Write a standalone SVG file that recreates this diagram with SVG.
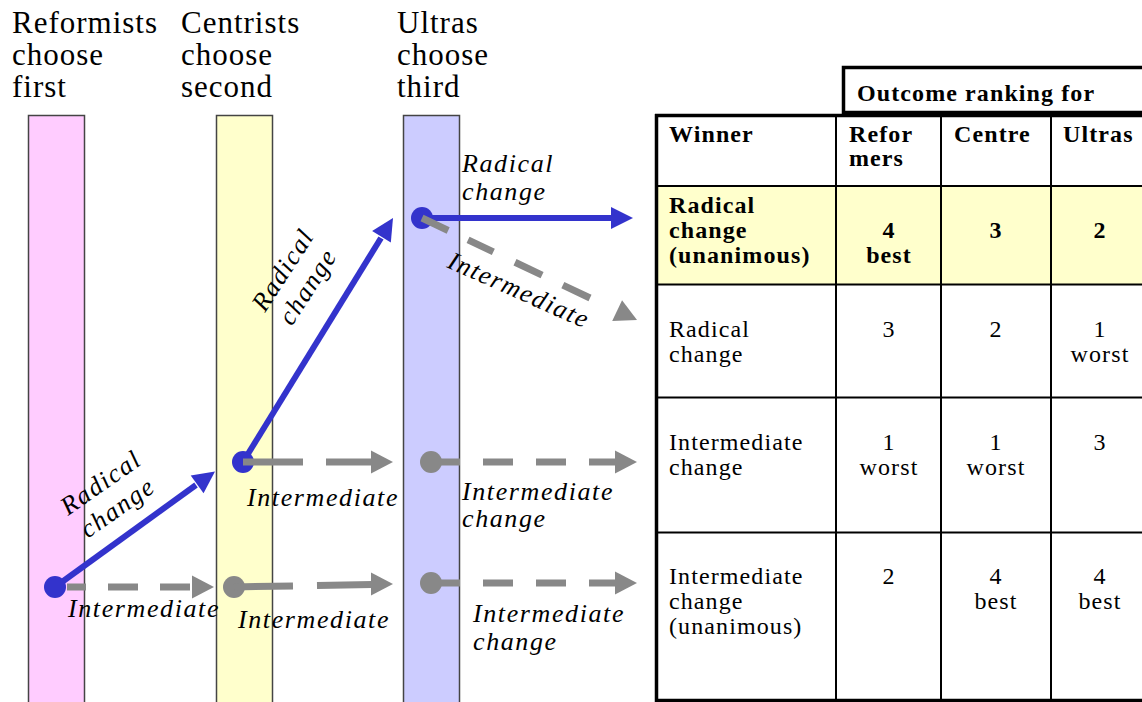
<svg xmlns="http://www.w3.org/2000/svg" xmlns:xlink="http://www.w3.org/1999/xlink" width="1142" height="702" viewBox="0 0 1142 702">
<style>
.hdr{font-family:"Liberation Serif","Times New Roman",serif;font-size:31px;letter-spacing:1px;fill:#000}
.lbl{font-family:"Liberation Serif","Times New Roman",serif;font-size:26px;font-style:italic;letter-spacing:1.6px;fill:#000}
.tn{font-family:"Liberation Serif","Times New Roman",serif;font-size:24px;letter-spacing:1.1px;fill:#000}
.tb{font-family:"Liberation Serif","Times New Roman",serif;font-size:24px;font-weight:bold;letter-spacing:1.1px;fill:#000}
.mid{text-anchor:middle}
.bar{stroke:#444;stroke-width:1.5}
.grid{stroke:#000;stroke-width:2;fill:none}
.thick{stroke:#000;stroke-width:3.5;fill:none}
.blue{stroke:#3333CC;stroke-width:6;fill:none}
.gray{stroke:#888888;stroke-width:7;fill:none}
.bdot{fill:#3333CC}
.gdot{fill:#888888}
</style>
<defs>
<path id="ahB" d="M-22,-11 L0,0 L-22,11 Z" fill="#3333CC"/>
<path id="ahG" d="M-22,-11.5 L0,0 L-22,11.5 Z" fill="#888888"/>
</defs>
<rect width="1142" height="702" fill="#fff"/>

<g id="reformists">
<rect class="bar" x="28.5" y="115.5" width="56" height="600" fill="#FFCCFF"/>
<text class="hdr" x="12" y="33">Reformists</text>
<text class="hdr" x="12" y="65">choose</text>
<text class="hdr" x="12" y="97">first</text>
</g>
<g id="centrists">
<rect class="bar" x="216.5" y="115.5" width="56" height="600" fill="#FFFFCC"/>
<text class="hdr" x="181" y="33">Centrists</text>
<text class="hdr" x="181" y="65">choose</text>
<text class="hdr" x="181" y="97">second</text>
</g>
<g id="ultras">
<rect class="bar" x="403.5" y="115.5" width="56" height="600" fill="#CCCCFF"/>
<text class="hdr" x="397" y="33">Ultras</text>
<text class="hdr" x="397" y="65">choose</text>
<text class="hdr" x="397" y="97">third</text>
</g>

<g id="table">
<rect x="657" y="186" width="490" height="98" fill="#FFFFCC"/>
<rect class="thick" x="843.5" y="67.5" width="310" height="45"/>
<text class="tb" x="857" y="101">Outcome ranking for</text>
<line class="thick" x1="655" y1="115.5" x2="1142" y2="115.5"/>
<line class="thick" x1="656.5" y1="114" x2="656.5" y2="702"/>
<line class="thick" x1="655" y1="700.5" x2="1142" y2="700.5"/>
<line class="grid" x1="657" y1="186" x2="1142" y2="186"/>
<line class="grid" x1="657" y1="284.5" x2="1142" y2="284.5"/>
<line class="grid" x1="657" y1="397.5" x2="1142" y2="397.5"/>
<line class="grid" x1="657" y1="532.5" x2="1142" y2="532.5"/>
<line class="grid" x1="836" y1="115" x2="836" y2="700"/>
<line class="grid" x1="941" y1="115" x2="941" y2="700"/>
<line class="grid" x1="1051" y1="115" x2="1051" y2="700"/>
<text class="tb" x="669" y="142">Winner</text>
<text class="tb" x="849" y="142">Refor</text>
<text class="tb" x="849" y="166">mers</text>
<text class="tb" x="954" y="142">Centre</text>
<text class="tb" x="1063" y="142">Ultras</text>
<text class="tb" x="669" y="213">Radical</text>
<text class="tb" x="669" y="238">change</text>
<text class="tb" x="669" y="263">(unanimous)</text>
<text class="tb mid" x="889" y="238">4</text>
<text class="tb mid" x="889" y="263">best</text>
<text class="tb mid" x="996" y="238">3</text>
<text class="tb mid" x="1100" y="238">2</text>
<text class="tn" x="669" y="337">Radical</text>
<text class="tn" x="669" y="362">change</text>
<text class="tn mid" x="889" y="337">3</text>
<text class="tn mid" x="996" y="337">2</text>
<text class="tn mid" x="1100" y="337">1</text>
<text class="tn mid" x="1100" y="362">worst</text>
<text class="tn" x="669" y="450">Intermediate</text>
<text class="tn" x="669" y="475">change</text>
<text class="tn mid" x="889" y="450">1</text>
<text class="tn mid" x="889" y="475">worst</text>
<text class="tn mid" x="996" y="450">1</text>
<text class="tn mid" x="996" y="475">worst</text>
<text class="tn mid" x="1100" y="450">3</text>
<text class="tn" x="669" y="584">Intermediate</text>
<text class="tn" x="669" y="609">change</text>
<text class="tn" x="669" y="634">(unanimous)</text>
<text class="tn mid" x="889" y="584">2</text>
<text class="tn mid" x="996" y="584">4</text>
<text class="tn mid" x="996" y="609">best</text>
<text class="tn mid" x="1100" y="584">4</text>
<text class="tn mid" x="1100" y="609">best</text>
</g>

<g id="connectors">
<path class="gray" d="M56,587 H191" stroke-dasharray="0 11 19 22 30 22 30 22 40"/>
<use xlink:href="#ahG" transform="translate(214,587)"/>
<path class="blue" d="M55,587 L196,485"/>
<use xlink:href="#ahB" transform="translate(215,471.5) rotate(-35.7)"/>
<circle class="bdot" cx="55" cy="587" r="11"/>
<path class="blue" d="M243,462 L381,238"/>
<use xlink:href="#ahB" transform="translate(393,218) rotate(-58.4)"/>
<circle class="bdot" cx="243" cy="462" r="11"/>
<path class="blue" d="M422,218 H611"/>
<use xlink:href="#ahB" transform="translate(633,218)"/>
<circle class="bdot" cx="422" cy="218" r="11"/>
<path class="gray" d="M243,462 H372" stroke-dasharray="60 23 100"/>
<use xlink:href="#ahG" transform="translate(393,462)"/>
<circle class="gdot" cx="234" cy="587" r="11"/>
<path class="gray" d="M234,587 L372,584.4" stroke-dasharray="59 24 100"/>
<use xlink:href="#ahG" transform="translate(393,584)"/>
<circle class="gdot" cx="431" cy="462" r="11"/>
<path class="gray" d="M431,462 H616" stroke-dasharray="29 23 30 23 30 23 40"/>
<use xlink:href="#ahG" transform="translate(637,462)"/>
<circle class="gdot" cx="431" cy="583" r="11"/>
<path class="gray" d="M431,583 H616" stroke-dasharray="29 23 30 23 30 23 40"/>
<use xlink:href="#ahG" transform="translate(637,583)"/>
<path class="gray" d="M422,218 L590,298" stroke-dasharray="29 22 28 24 30 23 40"/>
<use xlink:href="#ahG" transform="translate(637,320) rotate(25.4)"/>
</g>

<g id="labels">
<g transform="translate(68,516) rotate(-35)">
<text class="lbl" x="0" y="0">Radical</text>
<text class="lbl" x="3" y="30">change</text>
</g>
<g transform="translate(265,313) rotate(-57)">
<text class="lbl" x="0" y="0">Radical</text>
<text class="lbl" x="3" y="30">change</text>
</g>
<g transform="translate(446,267) rotate(24)">
<text class="lbl" x="0" y="0">Intermediate</text>
</g>
<text class="lbl" x="462" y="172">Radical</text>
<text class="lbl" x="462" y="200">change</text>
<text class="lbl" x="68" y="617">Intermediate</text>
<text class="lbl" x="247" y="506">Intermediate</text>
<text class="lbl" x="238" y="628">Intermediate</text>
<text class="lbl" x="462" y="500">Intermediate</text>
<text class="lbl" x="462" y="527">change</text>
<text class="lbl" x="473" y="622">Intermediate</text>
<text class="lbl" x="473" y="650">change</text>
</g>
</svg>
